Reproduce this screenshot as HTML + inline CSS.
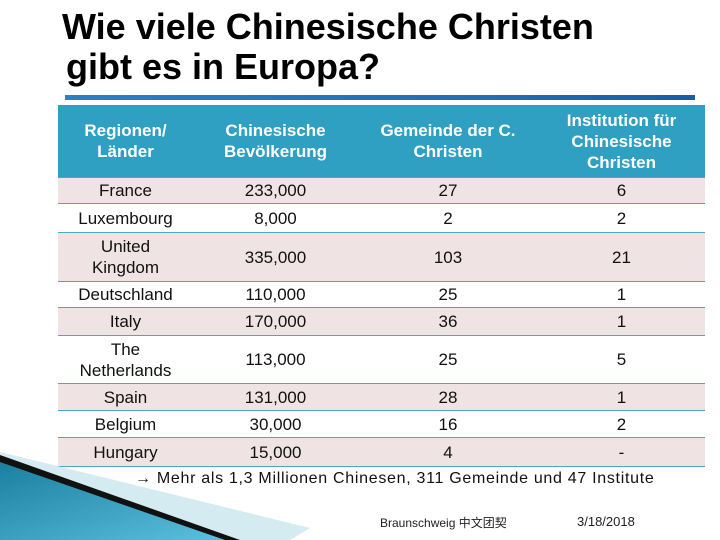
<!DOCTYPE html>
<html><head><meta charset="utf-8">
<style>
body{margin:0;width:720px;height:540px;background:#fff;position:relative;overflow:hidden;font-family:"Liberation Sans","Noto Sans CJK SC",sans-serif}
.title{position:absolute;left:62px;font-size:36px;font-weight:bold;color:#000;white-space:nowrap;letter-spacing:0px}
.row{position:absolute;left:58px;width:647px;border-top:1px solid #4aa8c4;display:flex;align-items:center;font-size:17px;color:#111}
.c{text-align:center;line-height:21px}
.c1{width:135px}.c2{width:165px}.c3{width:180px}.c4{width:167px}
.hdr{background:#2f9fc2;color:#fff;font-weight:bold;border-top:none}
</style></head><body>
<div class="title" style="top:6px">Wie viele Chinesische Christen</div>
<div class="title" style="top:46px;left:66px">gibt es in Europa?</div>
<div style="position:absolute;left:65px;top:95px;width:630px;height:5px;background:linear-gradient(90deg,#2a7fc6,#1f6db5 70%,#155ea6)"></div>
<div style="position:absolute;left:58px;top:105px;width:645px;height:360px;border:1px solid #4aa8c4"></div>
<div id="tbl"></div>
<svg style="position:absolute;left:0;top:0" width="720" height="540">
<defs><linearGradient id="g" x1="0" y1="0" x2="1" y2="1"><stop offset="0" stop-color="#1b7f9f"/><stop offset="1" stop-color="#5bc0e0"/></linearGradient></defs>
<polygon points="0,452 310,528 290,540 0,540" fill="#d4ebf2"/>
<polygon points="0,455 240,540 0,540" fill="#111"/>
<polygon points="0,462 225,540 0,540" fill="url(#g)"/>
</svg>
<div style="position:absolute;left:135px;top:470px;font-size:16px;letter-spacing:0.7px;color:#111;white-space:nowrap">→ Mehr als 1,3 Millionen Chinesen, 311 Gemeinde und 47 Institute</div>
<div style="position:absolute;left:380px;top:514px;font-size:12px;color:#222">Braunschweig 中文团契</div>
<div style="position:absolute;left:577px;top:514px;font-size:13px;color:#222">3/18/2018</div>
<script>
const countries=["France","Luxembourg","United<br>Kingdom","Deutschland","Italy","The<br>Netherlands","Spain","Belgium","Hungary"];
const population=["233,000","8,000","335,000","110,000","170,000","113,000","131,000","30,000","15,000"];
const gemeinde=["27","2","103","25","36","25","28","16","4"];
const institute=["6","2","21","1","1","5","1","2","-"];
const heights=[26,29,49,26,28,48,27,27,29];
const tbl=document.getElementById('tbl');
function mk(top,h,cells,cls,bg,name){
  const r=document.createElement('div');
  
  
  r.className='row '+cls;r.style.top=top+'px';r.style.height=h+'px';r.style.background=bg;
  cells.forEach((t,i)=>{const c=document.createElement('div');c.className='c c'+(i+1);c.innerHTML=t;
    
    
    r.appendChild(c);});
  tbl.appendChild(r);
}
mk(105,72,["Regionen/<br>Länder","Chinesische<br>Bevölkerung","Gemeinde der C.<br>Christen","Institution für<br>Chinesische<br>Christen"],'hdr','#2f9fc2','header-row');
let y=177;
countries.forEach((c,i)=>{mk(y,heights[i]-1,[c,population[i],gemeinde[i],institute[i]],'',i%2==0?'#efe3e3':'#fff','table-row');y+=heights[i];});
</script>
</body></html>
